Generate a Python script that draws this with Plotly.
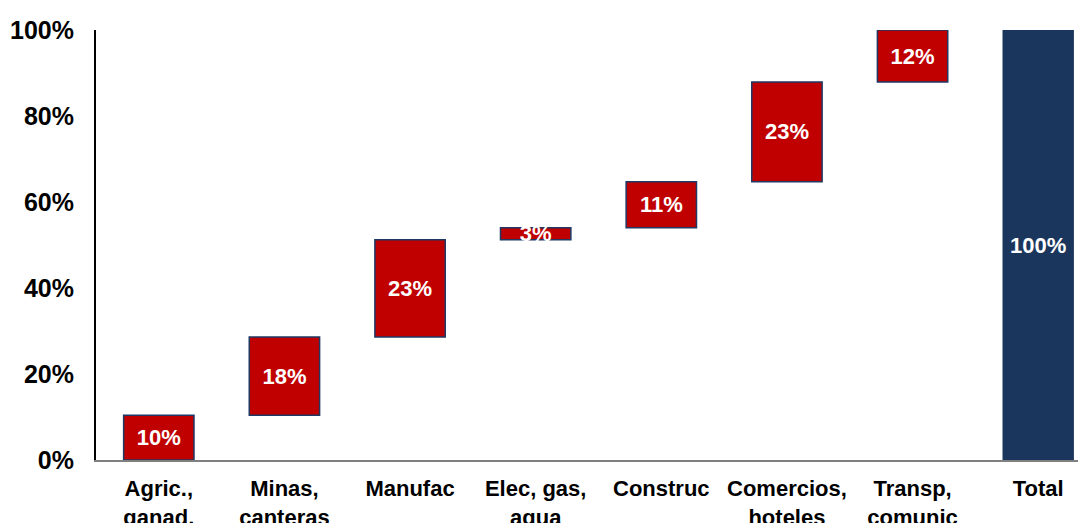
import plotly.graph_objects as go

categories = ["Agric.,<br>ganad.", "Minas,<br>canteras", "Manufac", "Elec, gas,<br>agua",
              "Construc", "Comercios,<br>hoteles", "Transp,<br>comunic", "Total"]
shares = [10.4, 18.2, 22.6, 2.8, 10.7, 23.2, 12.1]
total_value = 100
tick_vals = [0, 20, 40, 60, 80, 100]
tick_text = ["0%", "20%", "40%", "60%", "80%", "100%"]

values = shares + [total_value]
measures = ["relative"] * len(shares) + ["total"]
labels = [f"{round(v):d}%" for v in values]

FONT = "Liberation Sans, Arial, sans-serif"

fig = go.Figure(go.Waterfall(
    x=categories,
    y=values,
    measure=measures,
    text=labels,
    textposition="inside",
    insidetextanchor="middle",
    constraintext="none",
    textfont=dict(family=FONT, size=22, color="white", weight="bold"),
    increasing=dict(marker=dict(color="#C00000", line=dict(color="#1F3864", width=1.5))),
    decreasing=dict(marker=dict(color="#C00000", line=dict(color="#1F3864", width=1.5))),
    totals=dict(marker=dict(color="#1B365D", line=dict(color="#1B365D", width=1))),
    connector=dict(visible=False),
    showlegend=False,
    hoverinfo="skip",
))

fig.update_layout(
    width=1093, height=515,
    margin=dict(l=88, r=0, t=22, b=63),
    paper_bgcolor="white", plot_bgcolor="white",
    waterfallgap=0.44,
    font=dict(family=FONT, color="black"),
)
fig.update_yaxes(
    range=[0, 100], tickvals=tick_vals, ticktext=tick_text, automargin=False,
    showgrid=False, zeroline=False, showline=True, linecolor="black", linewidth=2,
    tickfont=dict(size=25, family=FONT, weight="bold"),
    ticks="", ticklabelstandoff=15,
)
fig.update_xaxes(
    automargin=False,
    showgrid=False, showline=True, linecolor="#7f7f7f", linewidth=2,
    tickfont=dict(size=22, family=FONT, weight="bold"),
    ticks="", ticklabelstandoff=8, tickangle=0,
)

fig.write_html("out.html")
